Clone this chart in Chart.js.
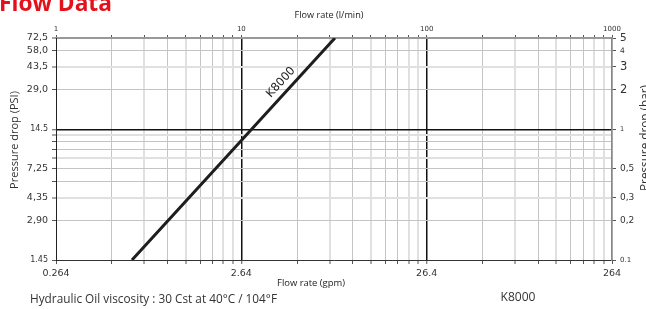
<!DOCTYPE html>
<html>
<head>
<meta charset="utf-8">
<script src="https://cdn.jsdelivr.net/npm/chart.js@4.4.1/dist/chart.umd.min.js"></script>
<style>
  html, body { margin: 0; padding: 0; background: #fff; }
  #wrap { position: relative; width: 646px; height: 309px; overflow: hidden; }
  canvas { display: block; }
</style>
</head>
<body>
<div id="wrap"><canvas id="c" width="646" height="309"></canvas></div>
<script>
// ---- data ----
const seriesName = 'K8000';
const flowLpm = [2.57, 10, 32];        // flow rate, l/min
const dropBar = [0.1, 0.82, 5];        // pressure drop, bar

// ---- axis ticks / labels ----
const xGridValues = [1,2,3,4,5,6,7,8,9,10,20,30,40,50,60,70,80,90,100,200,300,400,500,600,700,800,900,1000];
const xMajorValues = [1, 10, 100, 1000];
const xTopLabels = ['1', '10', '100', '1000'];          // l/min
const xBottomLabels = ['0.264', '2.64', '26.4', '264']; // gpm
const yGridValues = [0.1,0.2,0.3,0.4,0.5,0.6,0.7,0.8,0.9,1,2,3,4,5];
const yLabelValues = [0.1, 0.2, 0.3, 0.5, 1, 2, 3, 4, 5];
const yLeftLabels = ['1.45', '2,90', '4,35', '7,25', '14.5', '29,0', '43,5', '58,0', '72,5']; // PSI
const yRightLabels = ['0.1', '0,2', '0,3', '0,5', '1', '2', '3', '4', '5'];                  // bar
const yRightSizes = [7, 9, 9, 9, 6.5, 11.5, 11.5, 7.5, 10.5];
const xLightValues = [3, 5, 8, 9, 30, 50, 80, 90, 300, 500, 800, 900];
const yLightValues = [0.3, 0.6, 0.9, 3];

const FONT = "'DejaVu Sans', sans-serif";

function labelFor(values, labels, v) {
  const i = values.findIndex(a => Math.abs(a - v) < 1e-9);
  return i >= 0 ? labels[i] : '';
}
function isIn(arr, v) { return arr.some(a => Math.abs(a - v) < 1e-9); }

const xGridColor = ctx => {
  const v = ctx.tick ? ctx.tick.value : 0;
  if (v === 10 || v === 100) return '#111';
  return isIn(xLightValues, v) ? '#e0e0e0' : '#c4c4c4';
};
const xGridWidth = ctx => {
  const v = ctx.tick ? ctx.tick.value : 0;
  if (v === 10 || v === 100) return 1.5;
  return isIn(xLightValues, v) ? 2 : 1;
};
const yGridColor = ctx => {
  const v = ctx.tick ? ctx.tick.value : 0;
  if (Math.abs(v - 1) < 1e-9) return '#111';
  if (Math.abs(v - 5) < 1e-9) return '#999';
  return isIn(yLightValues, v) ? '#e0e0e0' : '#c4c4c4';
};
const yGridWidth = ctx => {
  const v = ctx.tick ? ctx.tick.value : 0;
  if (Math.abs(v - 1) < 1e-9) return 1.5;
  if (Math.abs(v - 5) < 1e-9) return 2;
  return isIn(yLightValues, v) ? 2 : 1;
};

function fitText(ctx, text, family, weight, targetW, baseSize) {
  ctx.font = weight + ' ' + baseSize + 'px ' + family;
  const w = ctx.measureText(text).width;
  const size = baseSize * targetW / w;
  ctx.font = weight + ' ' + size.toFixed(2) + 'px ' + family;
}

const extras = {
  id: 'extras',
  afterDatasetsDraw(chart) {
    const ctx = chart.ctx;
    const xs = chart.scales.x, ys = chart.scales.y;
    // series label along the line
    const p1 = { x: xs.getPixelForValue(flowLpm[0]), y: ys.getPixelForValue(dropBar[0]) };
    const p2 = { x: xs.getPixelForValue(flowLpm[flowLpm.length - 1]), y: ys.getPixelForValue(dropBar[dropBar.length - 1]) };
    const dx = p2.x - p1.x, dy = p2.y - p1.y, len = Math.hypot(dx, dy);
    const t = 0.77;
    const nx = dy / len, ny = -dx / len;
    const cx = p1.x + dx * t + nx * 10, cy = p1.y + dy * t + ny * 10;
    ctx.save();
    ctx.translate(cx, cy);
    ctx.rotate(Math.atan2(dy, dx));
    ctx.fillStyle = '#1e1e1e';
    ctx.font = '11.5px ' + FONT;
    ctx.textAlign = 'center';
    ctx.textBaseline = 'middle';
    ctx.fillText(seriesName, 0, 0);
    ctx.restore();
  },
  afterDraw(chart) {
    const ctx = chart.ctx;
    ctx.save();
    // page title (partly cut at the top)
    ctx.fillStyle = '#e3111b';
    ctx.textAlign = 'left';
    ctx.textBaseline = 'alphabetic';
    fitText(ctx, 'Flow Data', "'Open Sans', sans-serif", 'bold', 113, 24);
    ctx.fillText('Flow Data', -1, 11);

    ctx.fillStyle = '#222';
    ctx.textAlign = 'center';
    ctx.textBaseline = 'middle';
    fitText(ctx, 'Flow rate (l/min)', "'Open Sans', sans-serif", 'normal', 69, 10);
    ctx.fillText('Flow rate (l/min)', 329, 15);
    fitText(ctx, 'Flow rate (gpm)', "'Open Sans', sans-serif", 'normal', 68, 10);
    ctx.fillText('Flow rate (gpm)', 311, 283);

    ctx.fillStyle = '#333';
    fitText(ctx, 'Pressure drop (PSI)', "'Open Sans', sans-serif", 'normal', 98, 10);
    ctx.save(); ctx.translate(15, 140); ctx.rotate(-Math.PI / 2);
    ctx.fillText('Pressure drop (PSI)', 0, 0); ctx.restore();
    fitText(ctx, 'Pressure drop (bar)', "'Open Sans', sans-serif", 'normal', 106, 10);
    ctx.save(); ctx.translate(646, 138); ctx.rotate(-Math.PI / 2);
    ctx.fillText('Pressure drop (bar)', 0, 0); ctx.restore();

    ctx.fillStyle = '#333';
    ctx.textAlign = 'left';
    fitText(ctx, 'Hydraulic Oil viscosity : 30 Cst at 40°C / 104°F', "'Open Sans', sans-serif", 'normal', 247, 12);
    ctx.fillText('Hydraulic Oil viscosity : 30 Cst at 40°C / 104°F', 30, 300);
    ctx.textAlign = 'center';
    fitText(ctx, seriesName, "'Open Sans', sans-serif", 'normal', 35, 12);
    ctx.fillText(seriesName, 518, 298);
    ctx.restore();
  }
};

const setXTicks = s => { s.ticks = xGridValues.map(v => ({ value: v })); };
const setYTicks = s => { s.ticks = yGridValues.map(v => ({ value: v })); };

new Chart(document.getElementById('c'), {
  type: 'scatter',
  data: {
    datasets: [{
      label: seriesName,
      data: flowLpm.map((q, i) => ({ x: q, y: dropBar[i] })),
      showLine: true,
      borderColor: '#1e1e1e',
      borderWidth: 3,
      pointRadius: 0,
      tension: 0,
      xAxisID: 'x',
      yAxisID: 'y'
    }]
  },
  options: {
    responsive: false,
    devicePixelRatio: 1,
    animation: false,
    layout: { padding: 0 },
    plugins: { legend: { display: false }, tooltip: { enabled: false }, title: { display: false } },
    scales: {
      x: {
        type: 'logarithmic', position: 'bottom', min: 1, max: 1000,
        afterBuildTicks: setXTicks,
        afterFit: s => { s.height = 49; },
        ticks: {
          autoSkip: false, maxRotation: 0, minRotation: 0, padding: 4,
          color: '#333', font: { family: FONT, size: 9.5 },
          callback: v => labelFor(xMajorValues, xBottomLabels, v)
        },
        grid: { color: xGridColor, lineWidth: xGridWidth, tickLength: 4, tickColor: '#555', tickWidth: 1 },
        border: { display: true, color: '#333', width: 1 }
      },
      x2: {
        type: 'logarithmic', position: 'top', min: 1, max: 1000,
        afterBuildTicks: setXTicks,
        afterFit: s => { s.height = 38; },
        ticks: {
          autoSkip: false, maxRotation: 0, minRotation: 0, padding: 2,
          color: '#333', font: { family: FONT, size: 7 },
          callback: v => labelFor(xMajorValues, xTopLabels, v)
        },
        grid: { drawOnChartArea: false, tickLength: 3, tickColor: '#555', tickWidth: 1 },
        border: { display: true, color: '#999', width: 2 }
      },
      y: {
        type: 'logarithmic', position: 'left', min: 0.1, max: 5,
        afterBuildTicks: setYTicks,
        afterFit: s => { s.width = 56; },
        ticks: {
          autoSkip: false, padding: 4, color: '#333',
          font: ctx => {
            const v = ctx.tick ? ctx.tick.value : 0;
            const small = Math.abs(v - 1) < 1e-9 || Math.abs(v - 0.1) < 1e-9;
            return { family: FONT, size: small ? 8 : 9.5 };
          },
          callback: v => labelFor(yLabelValues, yLeftLabels, v)
        },
        grid: { color: yGridColor, lineWidth: yGridWidth, tickLength: 4, tickColor: '#555', tickWidth: 1 },
        border: { display: true, color: '#222', width: 1 }
      },
      y2: {
        type: 'logarithmic', position: 'right', min: 0.1, max: 5,
        afterBuildTicks: setYTicks,
        afterFit: s => { s.width = 34; },
        ticks: {
          autoSkip: false, padding: 4, color: '#333',
          font: ctx => {
            const v = ctx.tick ? ctx.tick.value : 0;
            const i = yLabelValues.findIndex(a => Math.abs(a - v) < 1e-9);
            return { family: FONT, size: i >= 0 ? yRightSizes[i] : 8 };
          },
          callback: v => labelFor(yLabelValues, yRightLabels, v)
        },
        grid: {
          drawOnChartArea: false, tickLength: 4, tickWidth: 1,
          tickColor: ctx => (ctx.tick && yLabelValues.some(a => Math.abs(a - ctx.tick.value) < 1e-9)) ? '#555' : 'rgba(0,0,0,0)'
        },
        border: { display: true, color: '#888', width: 1.5 }
      }
    }
  },
  plugins: [extras]
});
</script>
</body>
</html>
